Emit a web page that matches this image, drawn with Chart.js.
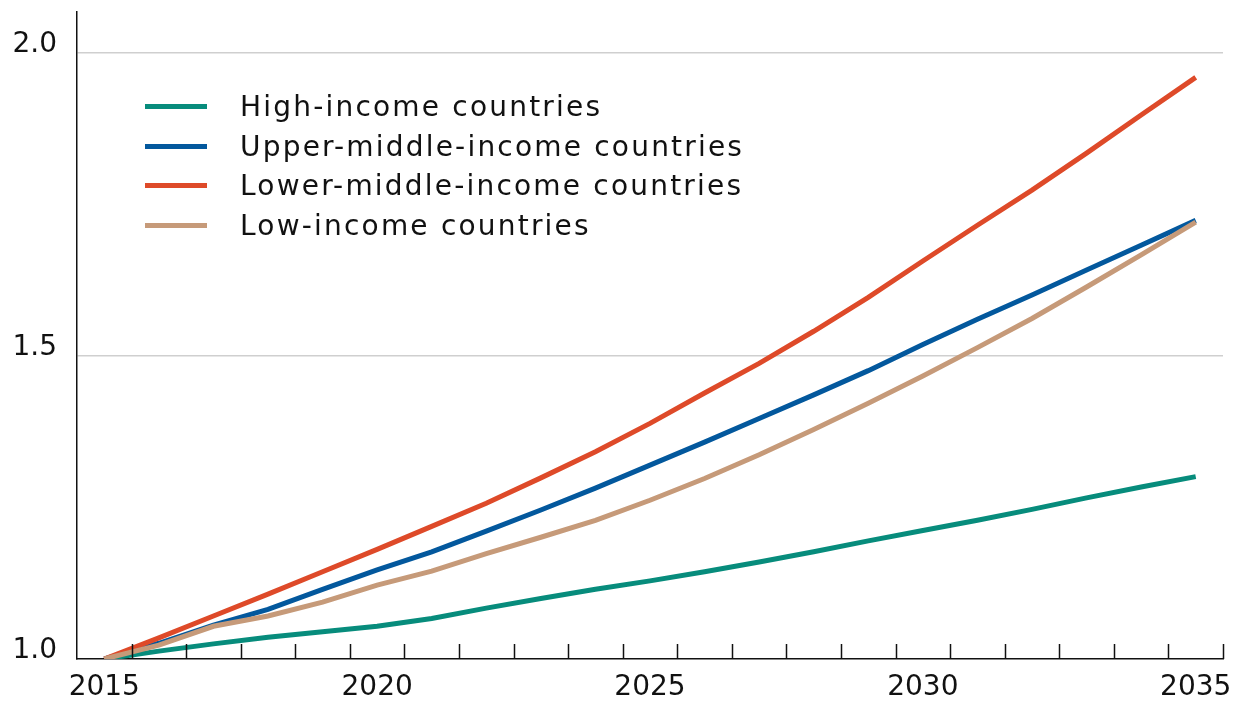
<!DOCTYPE html>
<html>
<head>
<meta charset="utf-8">
<script src="https://cdn.jsdelivr.net/npm/chart.js@4.4.1/dist/chart.umd.min.js"></script>
<style>
  html, body { margin: 0; padding: 0; background: #fff; }
  #wrap { position: relative; width: 1246px; height: 702px; }
  #legend { position: absolute; left: 145px; top: 87px; font-family: "DejaVu Sans", sans-serif; font-size: 28px; letter-spacing: 2.2px; color: #111; }
  #legend .row { display: flex; align-items: center; height: 39.5px; }
  #legend .swatch { width: 62px; height: 5px; margin-right: 33px; }
</style>
</head>
<body>
<div id="wrap">
  <canvas id="chart" width="1246" height="702"></canvas>
  <div id="legend"></div>
</div>
<script>
// Years on the x axis
const years = ['2015', '2016', '2017', '2018', '2019', '2020', '2021', '2022', '2023', '2024', '2025',
    '2026', '2027', '2028', '2029', '2030', '2031', '2032', '2033', '2034', '2035'];

// Index values (2015 = 1.0)
const highIncome = [1.000, 1.013, 1.025, 1.036, 1.045, 1.054, 1.067, 1.084, 1.100, 1.115, 1.129,
    1.144, 1.160, 1.177, 1.195, 1.212, 1.229, 1.247, 1.266, 1.284, 1.301];
const upperMiddle = [1.000, 1.026, 1.056, 1.082, 1.115, 1.147, 1.177, 1.211, 1.246, 1.282, 1.320,
    1.358, 1.397, 1.436, 1.476, 1.519, 1.561, 1.601, 1.642, 1.683, 1.724];
const lowerMiddle = [1.000, 1.035, 1.071, 1.107, 1.144, 1.181, 1.219, 1.257, 1.299, 1.342, 1.389,
    1.439, 1.488, 1.541, 1.597, 1.657, 1.716, 1.774, 1.835, 1.898, 1.960];
const lowIncome = [1.000, 1.023, 1.054, 1.071, 1.094, 1.122, 1.145, 1.174, 1.201, 1.229, 1.262,
    1.298, 1.337, 1.379, 1.422, 1.467, 1.514, 1.562, 1.614, 1.667, 1.721];

const seriesNames = ['High-income countries', 'Upper-middle-income countries',
    'Lower-middle-income countries', 'Low-income countries'];
const seriesColors = ['#078c7c', '#03589d', '#de4a29', '#c69a79'];

const yTicks = [1.0, 1.5, 2.0];
const xLabelYears = ['2015', '2020', '2025', '2030', '2035'];

const FONT = '"DejaVu Sans", sans-serif';

// Small tick marks pointing up from the x axis, between the years
const innerTicks = {
    id: 'innerTicks',
    afterDraw(chart) {
        const x = chart.scales.x;
        const ctx = chart.ctx;
        const step = x.getPixelForValue(1) - x.getPixelForValue(0);
        const bottom = chart.chartArea.bottom;
        ctx.save();
        ctx.strokeStyle = '#111';
        ctx.lineWidth = 1.5;
        ctx.beginPath();
        for (let i = 0; i < years.length; i++) {
            const px = Math.round(x.getPixelForValue(i) + step / 2) + 0.5;
            ctx.moveTo(px, bottom);
            ctx.lineTo(px, bottom - 15);
        }
        ctx.stroke();
        ctx.restore();
    }
};

const allSeries = [highIncome, upperMiddle, lowerMiddle, lowIncome];

const ctx = document.getElementById('chart').getContext('2d');
const chart = new Chart(ctx, {
    type: 'line',
    data: {
        labels: years,
        datasets: allSeries.map((values, i) => ({
            label: seriesNames[i],
            data: values,
            borderColor: seriesColors[i],
            backgroundColor: seriesColors[i],
            borderWidth: 5,
            pointRadius: 0,
            tension: 0,
            order: 4 - i
        }))
    },
    options: {
        responsive: false,
        animation: false,
        layout: { padding: { top: 12, right: 23, left: 0, bottom: 0 } },
        plugins: {
            legend: { display: false },
            tooltip: { enabled: false }
        },
        scales: {
            x: {
                type: 'category',
                offset: true,
                grid: { display: false, drawTicks: false },
                border: { display: true, color: '#111', width: 1.5 },
                ticks: {
                    autoSkip: false,
                    maxRotation: 0,
                    padding: 12,
                    color: '#111',
                    font: { family: FONT, size: 28 },
                    callback: function(value) {
                        const label = this.getLabelForValue(value);
                        return xLabelYears.includes(label) ? label : '';
                    }
                },
                afterFit: scale => {
                    scale.height = 43;
                    scale.paddingLeft = 0;
                    scale.paddingRight = 0;
                }
            },
            y: {
                min: 1.0,
                max: 2.068,
                afterBuildTicks: scale => { scale.ticks = yTicks.map(v => ({ value: v })); },
                grid: {
                    drawTicks: false,
                    lineWidth: 1.5,
                    color: c => (c.tick && c.tick.value === 1.0) ? 'rgba(0,0,0,0)' : '#cfcfcf'
                },
                border: { display: true, color: '#111', width: 1.5 },
                ticks: {
                    padding: 20,
                    labelOffset: -8,
                    color: '#111',
                    font: { family: FONT, size: 28 },
                    callback: v => v.toFixed(1)
                },
                afterFit: scale => {
                    scale.width = 77;
                    scale.paddingTop = 0;
                    scale.paddingBottom = 0;
                }
            }
        }
    },
    plugins: [innerTicks]
});

// Legend drawn inside the plot, top-left
const legendBox = document.getElementById('legend');
seriesNames.forEach((name, i) => {
    const row = document.createElement('div');
    row.className = 'row';
    const sw = document.createElement('span');
    sw.className = 'swatch';
    sw.style.background = seriesColors[i];
    const txt = document.createElement('span');
    txt.textContent = name;
    row.appendChild(sw);
    row.appendChild(txt);
    legendBox.appendChild(row);
});
</script>
</body>
</html>
